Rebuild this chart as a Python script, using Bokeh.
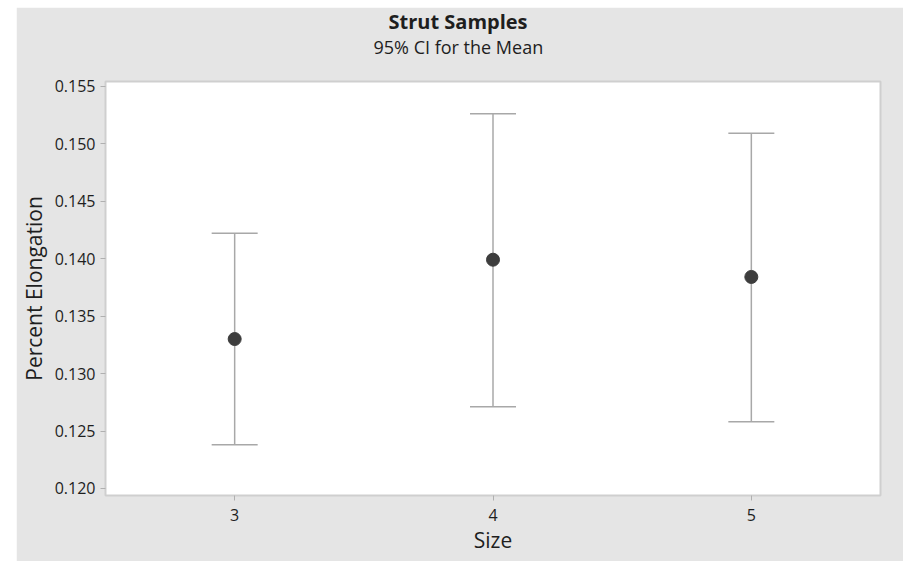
from bokeh.plotting import figure
from bokeh.models import ColumnDataSource, Whisker, TeeHead, FixedTicker, Title, NumeralTickFormatter, Range1d, Spacer
from bokeh.layouts import row, column
from bokeh.embed import file_html
from bokeh.resources import INLINE

# Data
sizes = [3, 4, 5]
means = [0.1330, 0.1399, 0.1384]
lower = [0.1238, 0.1271, 0.1258]
upper = [0.1422, 0.1526, 0.1509]
y_ticks = [0.120, 0.125, 0.130, 0.135, 0.140, 0.145, 0.150, 0.155]

FONT = "Open Sans"
TXT = "#1e1e1e"
BG = "#e5e5e5"

src = ColumnDataSource(dict(x=sizes, mean=means, lower=lower, upper=upper))

p = figure(width=887, height=554, output_backend="svg", toolbar_location=None,
           x_range=Range1d(2.5, 5.5), y_range=Range1d(0.11939, 0.1554),
           min_border_left=89, min_border_right=23, min_border_top=74, min_border_bottom=66)
p.border_fill_color = BG
p.background_fill_color = "white"
p.outline_line_color = "#cfcfcf"
p.outline_line_width = 2
p.xgrid.visible = False
p.ygrid.visible = False

# spacer between frame and subtitle
p.add_layout(Title(text=" ", text_font_size="1px", standoff=20), "above")
p.add_layout(Title(text="95% CI for the Mean", align="left", offset=268, text_font=FONT,
                   text_font_size="18px", text_font_style="normal", text_color=TXT,
                   standoff=0), "above")
p.add_layout(Title(text="Strut Samples", align="left", offset=283, text_font=FONT,
                   text_font_size="20px", text_font_style="bold", text_color=TXT,
                   standoff=-4), "above")

w = Whisker(base="x", upper="upper", lower="lower", source=src,
            line_color="#a8a8a8", line_width=1.5,
            upper_head=TeeHead(size=46, line_color="#a8a8a8", line_width=1.5),
            lower_head=TeeHead(size=46, line_color="#a8a8a8", line_width=1.5),
            level="underlay")
p.add_layout(w)
p.scatter("x", "mean", source=src, size=13, fill_color="#3d3d3d", line_color="#3d3d3d")

p.xaxis.ticker = FixedTicker(ticks=sizes)
p.yaxis.ticker = FixedTicker(ticks=y_ticks)
p.yaxis.formatter = NumeralTickFormatter(format="0.000")
p.xaxis.axis_label = "Size"
p.yaxis.axis_label = "Percent Elongation"
for ax in (p.xaxis, p.yaxis):
    ax.axis_line_color = None
    ax.major_tick_line_color = "#b0b0b0"
    ax.major_tick_out = 5
    ax.major_tick_in = 0
    ax.minor_tick_line_color = None
    ax.major_label_text_font = FONT
    ax.major_label_text_font_size = "16px"
    ax.major_label_text_color = TXT
    ax.axis_label_text_font = FONT
    ax.axis_label_text_font_size = "21px"
    ax.axis_label_text_font_style = "normal"
    ax.axis_label_text_color = TXT
p.yaxis.major_label_standoff = 5
p.yaxis.axis_label_standoff = 4
p.xaxis.major_label_standoff = 8
p.xaxis.axis_label_standoff = 2

layout = column(Spacer(height=7), row(Spacer(width=16), p))
open("out.html", "w").write(file_html(layout, INLINE))
